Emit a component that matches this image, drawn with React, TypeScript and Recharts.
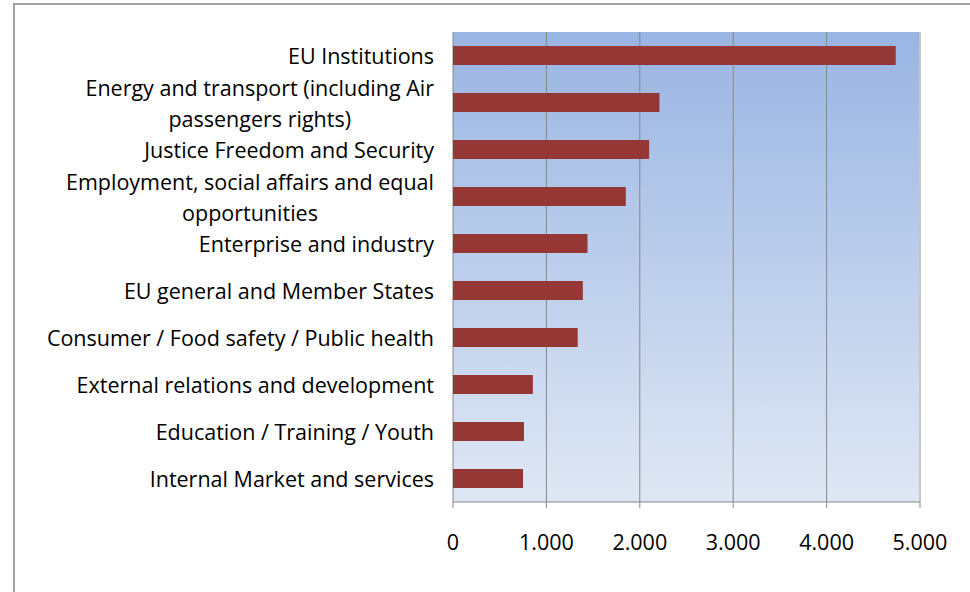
import { Bar, BarChart, CartesianGrid, XAxis, YAxis } from "recharts";

const categories = [
  "EU Institutions",
  "Energy and transport (including Air passengers rights)",
  "Justice Freedom and Security",
  "Employment, social affairs and equal opportunities",
  "Enterprise and industry",
  "EU general and Member States",
  "Consumer / Food safety / Public health",
  "External relations and development",
  "Education / Training / Youth",
  "Internal Market and services",
];
const complaints = [4740, 2210, 2100, 1850, 1440, 1390, 1335, 855, 760, 750];
const valueTicks = [0, 1000, 2000, 3000, 4000, 5000];
const bandEdges = [0, 1, 2, 3, 4, 5, 6, 7, 8, 9, 10];

const data = categories.map((name, i) => ({ name, value: complaints[i] }));

const FONT = "'Open Sans', sans-serif";
const FONT_SIZE = 21.5;
const MAX_LABEL = 430;
const LINE_HEIGHT = 31;
const GRID = "#878787";

let ctx: CanvasRenderingContext2D | null = null;
function textWidth(s: string) {
  if (!ctx) ctx = document.createElement("canvas").getContext("2d");
  if (!ctx) return s.length * FONT_SIZE * 0.55;
  ctx.font = `${FONT_SIZE}px 'Open Sans'`;
  return ctx.measureText(s).width;
}

function wrap(label: string) {
  const words = label.split(" ");
  const lines: string[] = [];
  let cur = "";
  for (const w of words) {
    const next = cur ? cur + " " + w : w;
    if (cur && textWidth(next) > MAX_LABEL) {
      lines.push(cur);
      cur = w;
    } else {
      cur = next;
    }
  }
  if (cur) lines.push(cur);
  return lines;
}

function CategoryTick(props: any) {
  const { x, y, payload } = props;
  const lines = wrap(String(payload.value));
  const block = Math.max(...lines.map(textWidth));
  return (
    <g>
      {lines.map((line, i) => (
        <text
          key={i}
          x={x - block / 2}
          y={y + (i - (lines.length - 1) / 2) * LINE_HEIGHT}
          textAnchor="middle"
          dominantBaseline="central"
          fontFamily={FONT}
          fontSize={FONT_SIZE}
          fill="#000"
        >
          {line}
        </text>
      ))}
    </g>
  );
}

const formatThousands = (v: number) =>
  String(v).replace(/\B(?=(\d{3})+(?!\d))/g, ".");

export default function App() {
  return (
    <div
      style={{
        position: "fixed",
        left: 0,
        top: 0,
        width: 970,
        height: 592,
        overflow: "hidden",
        background: "#fff",
      }}
    >
      <div
        style={{
          position: "absolute",
          left: 13,
          top: 3,
          width: 1000,
          height: 700,
          borderLeft: "2px solid #a3a3a3",
          borderTop: "2px solid #a3a3a3",
        }}
      />
      <div style={{ position: "absolute", left: 0, top: 0 }}>
        <BarChart
          width={970}
          height={592}
          data={data}
          layout="vertical"
          margin={{ top: 32, right: 50, left: 0, bottom: 30 }}
        >
          <defs>
            <linearGradient id="plotBg" x1="0" y1="0" x2="0" y2="1">
              <stop offset="0%" stopColor="#99B5E3" />
              <stop offset="100%" stopColor="#DFE7F4" />
            </linearGradient>
          </defs>
          <CartesianGrid
            horizontal={false}
            fill="url(#plotBg)"
            fillOpacity={1}
            vertical={(p: any) => (
              <line
                key={p.key ?? p.index}
                x1={p.x1}
                y1={p.y1}
                x2={p.x2}
                y2={p.y2}
                stroke={p.index === valueTicks.length - 1 ? "#c6c6c6" : GRID}
                strokeWidth={p.index === valueTicks.length - 1 ? 2 : 1}
              />
            )}
          />
          <XAxis
            type="number"
            domain={[0, 5000]}
            ticks={valueTicks}
            tickFormatter={formatThousands}
            axisLine={{ stroke: GRID }}
            tickLine={{ stroke: GRID }}
            tickSize={6}
            tickMargin={27}
            height={60}
            interval={0}
            tick={{ fontSize: FONT_SIZE, fill: "#000", fontFamily: FONT }}
          />
          <YAxis
            yAxisId="edges"
            type="number"
            domain={[0, 10]}
            ticks={bandEdges}
            interval={0}
            width={0}
            tick={false}
            tickSize={6}
            tickLine={{ stroke: GRID }}
            axisLine={{ stroke: GRID }}
          />
          <YAxis
            yAxisId="cat"
            type="category"
            dataKey="name"
            width={453}
            interval={0}
            axisLine={false}
            tickLine={false}
            tickSize={0}
            tickMargin={19}
            tick={<CategoryTick />}
          />
          <Bar
            yAxisId="cat"
            dataKey="value"
            fill="#953735"
            barSize={19}
            isAnimationActive={false}
          />
        </BarChart>
      </div>
    </div>
  );
}
